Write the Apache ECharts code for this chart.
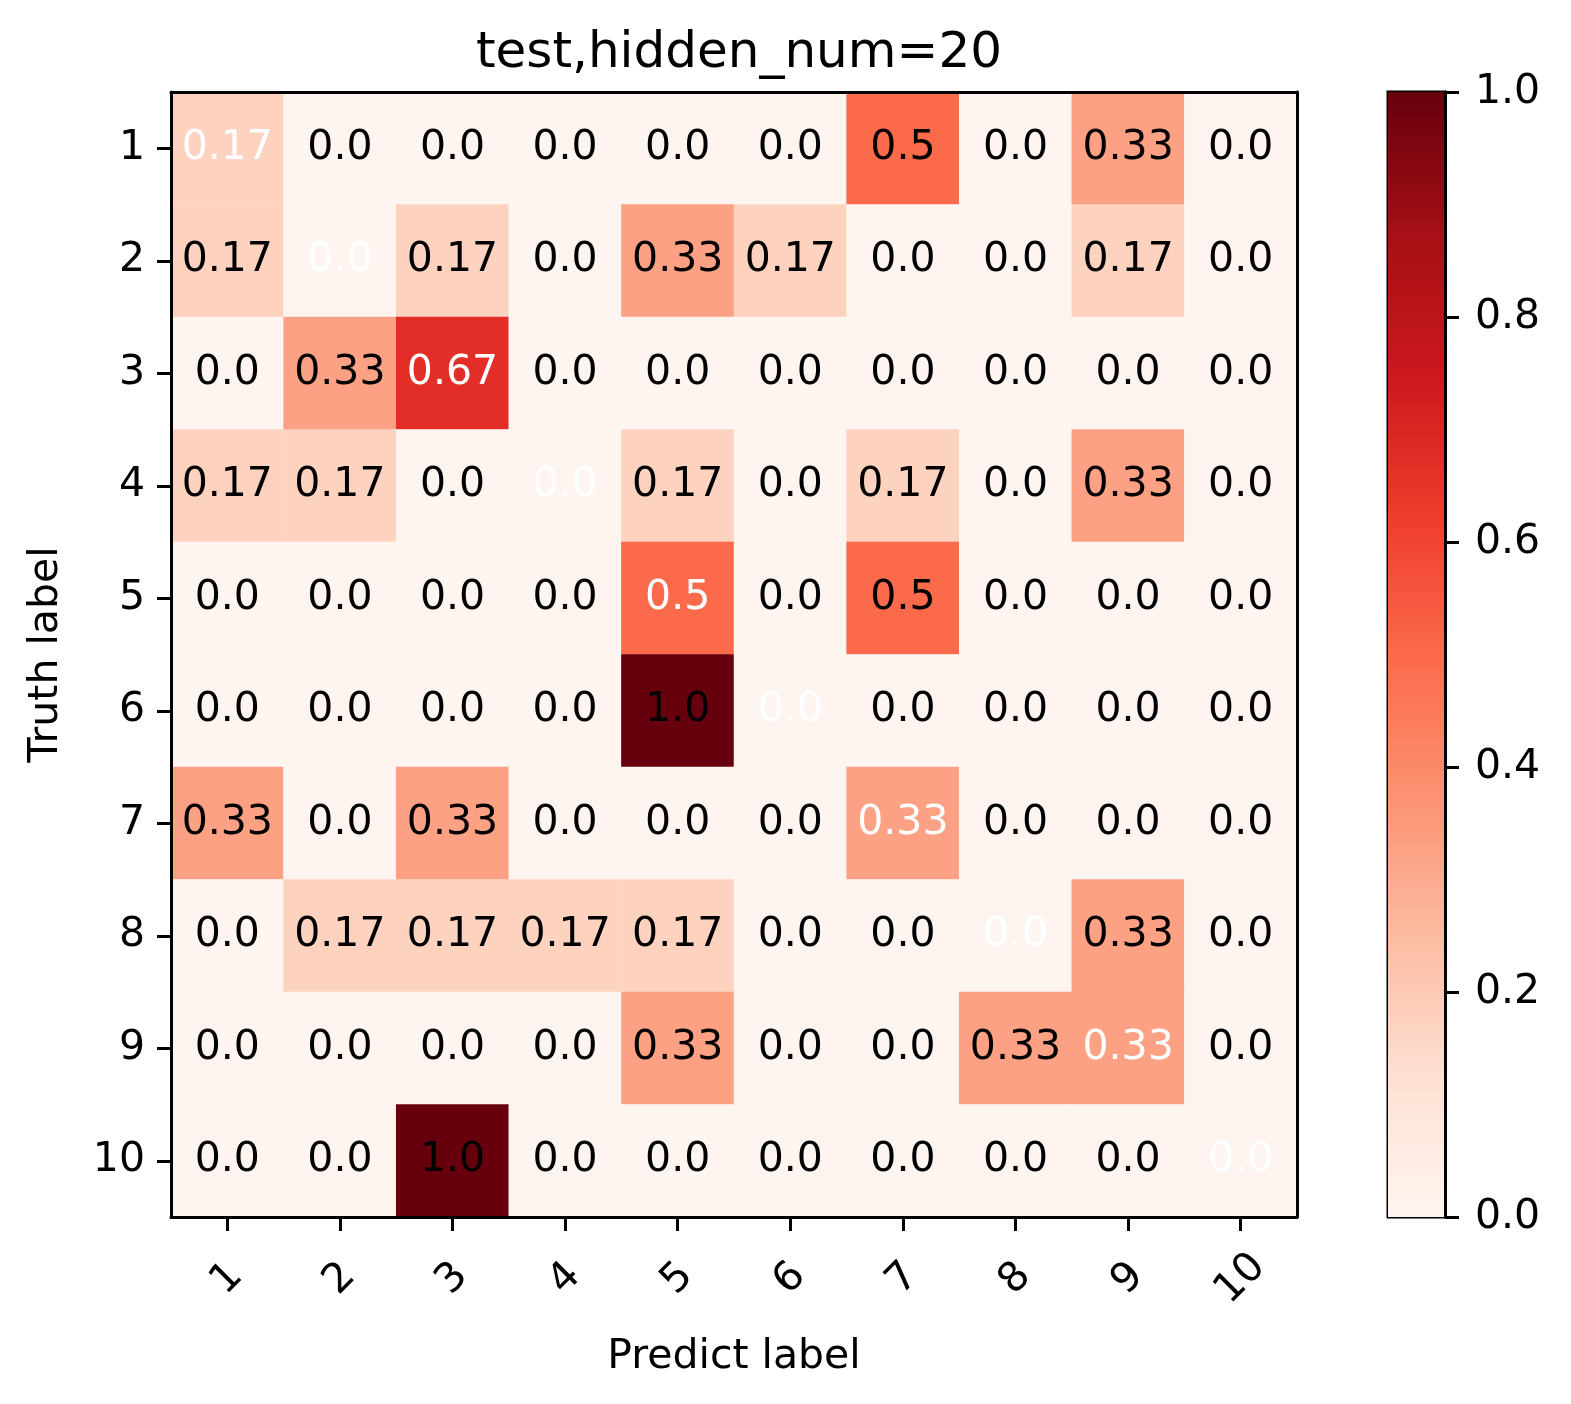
<!DOCTYPE html>
<html>
<head>
<meta charset="utf-8">
<script src="https://cdn.jsdelivr.net/npm/echarts@6/dist/echarts.min.js"></script>
<style>
  html, body { margin: 0; padding: 0; background: #fff; }
  #chart { width: 1571px; height: 1404px; }
</style>
</head>
<body>
<div id="chart"></div>
<script>
// labels of both axes
var classes = ['1', '2', '3', '4', '5', '6', '7', '8', '9', '10'];

// confusion matrix, rows = truth label, columns = predicted label
var row1 = [0.17, 0, 0, 0, 0, 0, 0.5, 0, 0.33, 0];
var row2 = [0.17, 0, 0.17, 0, 0.33, 0.17, 0, 0, 0.17, 0];
var row3 = [0, 0.33, 0.67, 0, 0, 0, 0, 0, 0, 0];
var row4 = [0.17, 0.17, 0, 0, 0.17, 0, 0.17, 0, 0.33, 0];
var row5 = [0, 0, 0, 0, 0.5, 0, 0.5, 0, 0, 0];
var row6 = [0, 0, 0, 0, 1.0, 0, 0, 0, 0, 0];
var row7 = [0.33, 0, 0.33, 0, 0, 0, 0.33, 0, 0, 0];
var row8 = [0, 0.17, 0.17, 0.17, 0.17, 0, 0, 0, 0.33, 0];
var row9 = [0, 0, 0, 0, 0.33, 0, 0, 0.33, 0.33, 0];
var row10 = [0, 0, 1.0, 0, 0, 0, 0, 0, 0, 0];
var matrix = [row1, row2, row3, row4, row5, row6, row7, row8, row9, row10];

// colorbar range
var colorbarMax = [1];

// matplotlib "Reds"
var reds = ['#fff5f0', '#fee0d2', '#fcbba1', '#fc9272', '#fb6a4a',
            '#ef3b2c', '#cb181d', '#a50f15', '#67000d'];

var FONT = 'DejaVu Sans';
var FS = 41;

function fmt(v) {
  return Number.isInteger(v) ? v.toFixed(1) : String(v);
}

// diagonal entries get white text
var cells = [];
matrix.forEach(function (row, i) {
  row.forEach(function (v, j) {
    var item = { value: [j, i, v] };
    if (i === j) item.label = { color: '#fff' };
    cells.push(item);
  });
});

var gradStops = reds.map(function (c, k) {
  return { offset: k / (reds.length - 1), color: c };
});

var spine = { show: true, lineStyle: { color: '#000', width: 3 } };
var tick = { show: true, alignWithLabel: true, length: 14, lineStyle: { color: '#000', width: 3 } };
var labelStyle = { fontFamily: FONT, fontSize: FS, color: '#000' };

var myChart = echarts.init(document.getElementById('chart'));

var option = {
  backgroundColor: '#fff',
  animation: false,
  title: {
    text: 'test,hidden_num=20',
    left: 734,
    top: 24,
    textAlign: 'center',
    textStyle: { fontFamily: FONT, fontSize: 50, fontWeight: 'normal', color: '#000' }
  },
  grid: [
    { left: 171, top: 92, width: 1126, height: 1125 },
    { left: 1388, top: 92, width: 57, height: 1125, show: true, borderColor: '#000', borderWidth: 3, backgroundColor: 'transparent' }
  ],
  xAxis: [
    {
      gridIndex: 0,
      type: 'category',
      data: classes,
      name: 'Predict label',
      nameLocation: 'middle',
      nameGap: 120,
      nameTextStyle: labelStyle,
      axisLine: spine,
      axisTick: tick,
      axisLabel: Object.assign({ rotate: 45, align: 'center', verticalAlign: 'middle', margin: 62 }, labelStyle),
      splitLine: { show: false },
      z: 5
    },
    {
      gridIndex: 0,
      type: 'category',
      data: classes,
      position: 'top',
      axisLine: spine,
      axisTick: { show: false },
      axisLabel: { show: false },
      z: 5
    },
    {
      gridIndex: 1,
      type: 'category',
      data: [''],
      axisLine: { show: false },
      axisTick: { show: false },
      axisLabel: { show: false }
    }
  ],
  yAxis: [
    {
      gridIndex: 0,
      type: 'category',
      data: classes,
      inverse: true,
      name: 'Truth label',
      nameLocation: 'middle',
      nameGap: 104,
      nameRotate: 90,
      nameTextStyle: labelStyle,
      axisLine: spine,
      axisTick: tick,
      axisLabel: Object.assign({ margin: 26 }, labelStyle),
      splitLine: { show: false },
      z: 5
    },
    {
      gridIndex: 0,
      type: 'category',
      data: classes,
      inverse: true,
      position: 'right',
      axisLine: spine,
      axisTick: { show: false },
      axisLabel: { show: false },
      z: 5
    },
    {
      gridIndex: 1,
      type: 'value',
      position: 'right',
      min: 0,
      max: 1,
      interval: 0.2,
      axisLine: spine,
      axisTick: { show: true, length: 14, lineStyle: { color: '#000', width: 3 } },
      axisLabel: Object.assign({
        margin: 30,
        formatter: function (v) { return v.toFixed(1); }
      }, labelStyle),
      splitLine: { show: false },
      z: 5
    }
  ],
  visualMap: {
    show: false,
    type: 'continuous',
    seriesIndex: 0,
    dimension: 2,
    min: 0,
    max: 1,
    inRange: { color: reds }
  },
  series: [
    {
      type: 'heatmap',
      xAxisIndex: 0,
      yAxisIndex: 0,
      data: cells,
      itemStyle: { borderWidth: 0 },
      emphasis: { disabled: true },
      label: {
        show: true,
        fontFamily: FONT,
        fontSize: FS,
        color: '#000',
        formatter: function (p) { return fmt(p.value[2]); }
      }
    },
    {
      type: 'bar',
      xAxisIndex: 2,
      yAxisIndex: 2,
      data: colorbarMax,
      barWidth: '100%',
      silent: true,
      itemStyle: {
        color: { type: 'linear', x: 0, y: 1, x2: 0, y2: 0, colorStops: gradStops }
      }
    }
  ]
};

myChart.setOption(option);
</script>
</body>
</html>
